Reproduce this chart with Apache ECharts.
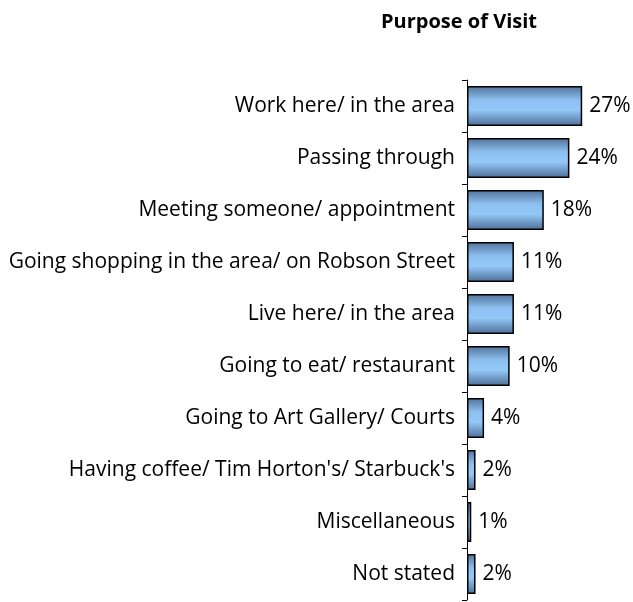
<!DOCTYPE html>
<html>
<head>
<meta charset="utf-8">
<script src="https://cdn.jsdelivr.net/npm/echarts@6/dist/echarts.min.js"></script>
<style>
  html, body { margin: 0; padding: 0; background: #fff; }
  #chart { width: 633px; height: 602px; }
</style>
</head>
<body>
<div id="chart"></div>
<script>
// purpose of visit, share of respondents (%)
const categories = [
  'Work here/ in the area',
  'Passing through',
  'Meeting someone/ appointment',
  'Going shopping in the area/ on Robson Street',
  'Live here/ in the area',
  'Going to eat/ restaurant',
  'Going to Art Gallery/ Courts',
  "Having coffee/ Tim Horton's/ Starbuck's",
  'Miscellaneous',
  'Not stated'
];
const values = [27, 24, 18, 11, 11, 10, 4, 2, 1, 2];

const chart = echarts.init(document.getElementById('chart'));

const barFill = new echarts.graphic.LinearGradient(0, 0, 0, 1, [
  { offset: 0, color: '#4f7198' },
  { offset: 0.35, color: '#8dc0f0' },
  { offset: 0.6, color: '#93c8f8' },
  { offset: 1, color: '#4d6f96' }
]);

const option = {
  animation: false,
  title: {
    text: 'Purpose of Visit',
    left: 454,
    top: 7,
    textAlign: 'center',
    textStyle: {
      fontFamily: 'Open Sans',
      fontWeight: 'bold',
      fontSize: 20,
      color: '#000'
    }
  },
  grid: {
    left: 467,
    right: 38,
    top: 80,
    bottom: 2
  },
  xAxis: {
    type: 'value',
    min: 0,
    max: 30,
    show: false
  },
  yAxis: {
    type: 'category',
    inverse: true,
    data: categories,
    axisLine: { lineStyle: { color: '#000', width: 1 } },
    axisTick: { show: true, length: 5, lineStyle: { color: '#000' } },
    axisLabel: {
      margin: 12,
      fontFamily: 'Open Sans',
      fontSize: 21,
      color: '#000'
    }
  },
  series: [
    {
      type: 'bar',
      data: values,
      barWidth: '77%',
      itemStyle: {
        color: barFill,
        borderColor: '#000',
        borderWidth: 1.5
      },
      label: {
        show: true,
        position: 'right',
        distance: 7,
        formatter: '{c}%',
        fontFamily: 'Open Sans',
        fontSize: 21,
        color: '#000'
      }
    }
  ]
};

chart.setOption(option);
</script>
</body>
</html>
